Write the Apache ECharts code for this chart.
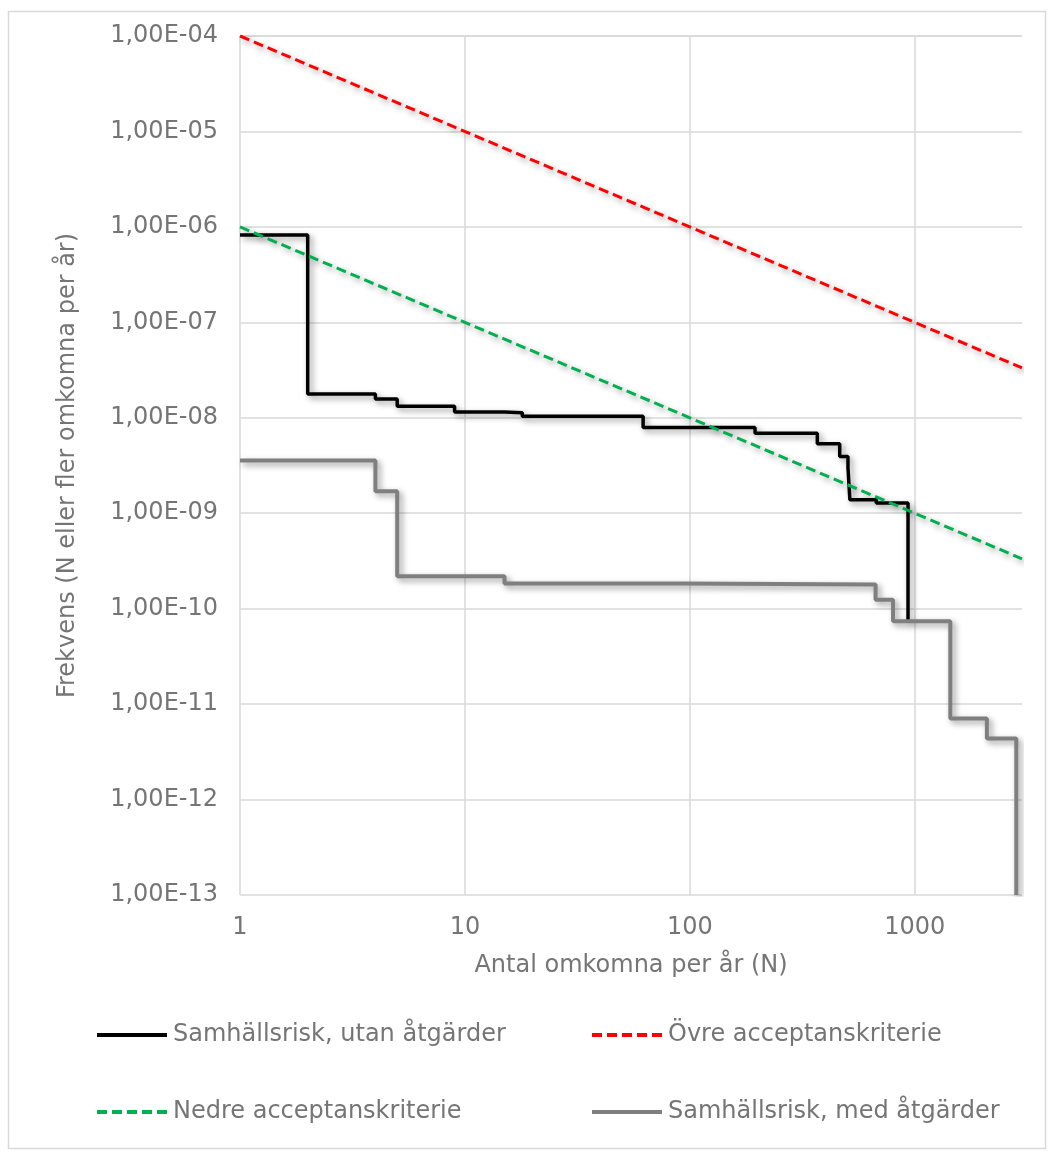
<!DOCTYPE html>
<html>
<head>
<meta charset="utf-8">
<script src="https://cdn.jsdelivr.net/npm/echarts@6/dist/echarts.min.js"></script>
<style>
  html, body { margin: 0; padding: 0; background: #ffffff; }
  #chart { width: 1054px; height: 1157px; }
</style>
</head>
<body>
<div id="chart"></div>
<script>
// F/N-kurva: antal omkomna (N) mot frekvens för N eller fler omkomna per år

// Samhällsrisk utan åtgärder (trappsteg: frekvens gäller från N till nästa N)
const utanN = [1, 2, 4, 5, 9, 15, 18, 62, 195, 369, 464, 505, 515, 675, 934];
const utanF = [8.2e-7, 1.78e-8, 1.57e-8, 1.32e-8, 1.15e-8, 1.13e-8, 1.04e-8, 7.9e-9,
               6.9e-9, 5.35e-9, 3.94e-9, 3.0e-9, 1.38e-9, 1.28e-9, 7.5e-11];

// Samhällsrisk med åtgärder
const medN = [1, 4, 5, 15, 92, 670, 801, 1440, 2094, 2830];
const medF = [3.57e-9, 1.7e-9, 2.19e-10, 1.83e-10, 1.79e-10, 1.24e-10, 7.36e-11,
              7.05e-12, 4.36e-12, 1e-13];

// Acceptanskriterier (räta linjer i log-log)
const kritN = [1, 3000];
const ovreF = [1e-4, 3.33e-8];
const nedreF = [1e-6, 3.33e-10];

// Axlar
const xMin = 1, xMax = 3000;
const yMin = 1e-13, yMax = 1e-4;
const xGridValues = [1, 10, 100, 1000];

const FONT = 'DejaVu Sans';
const TEXT = '#757575';
const GRID = '#d9d9d9';
const FS = 24;

const pairs = (xs, ys) => xs.map((x, i) => [x, ys[i]]);

const shadow = {
  shadowColor: 'rgba(0,0,0,0.4)',
  shadowBlur: 6,
  shadowOffsetX: 3,
  shadowOffsetY: 3
};

function fmtExp(v) {
  const e = Math.round(Math.log10(v));
  const a = Math.abs(e);
  return '1,00E' + (e < 0 ? '-' : '+') + (a < 10 ? '0' + a : String(a));
}

const legendBase = {
  orient: 'horizontal',
  padding: 0,
  itemWidth: 70,
  itemHeight: 14,
  itemGap: 0,
  selectedMode: false,
  itemStyle: { opacity: 0 },
  lineStyle: { width: 4 },
  textStyle: { fontFamily: FONT, fontSize: FS, color: TEXT, padding: [0, 0, 0, 1] }
};

const chart = echarts.init(document.getElementById('chart'), null, { renderer: 'canvas' });

chart.setOption({
  backgroundColor: '#ffffff',
  animation: false,
  graphic: [{
    type: 'rect',
    silent: true,
    shape: { x: 8.5, y: 11.5, width: 1037, height: 1137 },
    style: { fill: 'none', stroke: '#d9d9d9', lineWidth: 1.5 }
  }],
  grid: { left: 240, top: 36, right: 32, bottom: 262, containLabel: false },
  legend: [
    Object.assign({}, legendBase, { data: ['Samhällsrisk, utan åtgärder'], left: 95, top: 1023 }),
    Object.assign({}, legendBase, { data: ['Övre acceptanskriterie'], left: 590, top: 1023 }),
    Object.assign({}, legendBase, { data: ['Nedre acceptanskriterie'], left: 95, top: 1100 }),
    Object.assign({}, legendBase, { data: ['Samhällsrisk, med åtgärder'], left: 590, top: 1100 })
  ],
  xAxis: {
    type: 'log',
    logBase: 10,
    min: xMin,
    max: xMax,
    name: 'Antal omkomna per år (N)',
    nameLocation: 'middle',
    nameGap: 59,
    nameTextStyle: { fontFamily: FONT, fontSize: FS, color: TEXT },
    axisLine: { show: false },
    axisTick: { show: false },
    splitLine: { show: false },
    axisLabel: {
      fontFamily: FONT, fontSize: FS, color: TEXT, margin: 21,
      showMaxLabel: false,
      formatter: v => String(Math.round(v))
    }
  },
  yAxis: {
    type: 'log',
    logBase: 10,
    min: yMin,
    max: yMax,
    name: 'Frekvens (N eller fler omkomna per år)',
    nameLocation: 'middle',
    nameGap: 160,
    nameRotate: 90,
    nameTextStyle: { fontFamily: FONT, fontSize: FS, color: TEXT },
    axisLine: { show: false },
    axisTick: { show: false },
    splitLine: { show: true, lineStyle: { color: GRID, width: 1.5 } },
    axisLabel: {
      fontFamily: FONT, fontSize: FS, color: TEXT, margin: 22,
      formatter: fmtExp
    }
  },
  series: [
    {
      name: 'Samhällsrisk, utan åtgärder',
      type: 'line',
      step: 'end',
      symbol: 'none',
      data: pairs(utanN, utanF),
      lineStyle: Object.assign({ color: '#000000', width: 3.5 }, shadow),
      itemStyle: { color: '#000000' },
      z: 3,
      // vertikala stödlinjer vid N = 1, 10, 100, 1000
      markLine: {
        silent: true,
        symbol: 'none',
        label: { show: false },
        z: 1,
        lineStyle: { color: GRID, width: 1.5, type: 'solid', shadowBlur: 0, shadowOffsetX: 0, shadowOffsetY: 0 },
        data: xGridValues.map(v => ({ xAxis: v }))
      }
    },
    {
      name: 'Samhällsrisk, med åtgärder',
      type: 'line',
      step: 'end',
      symbol: 'none',
      data: pairs(medN, medF),
      lineStyle: Object.assign({ color: '#7f7f7f', width: 4 }, shadow),
      itemStyle: { color: '#7f7f7f' },
      z: 4
    },
    {
      name: 'Övre acceptanskriterie',
      type: 'line',
      symbol: 'none',
      data: pairs(kritN, ovreF),
      lineStyle: Object.assign({ color: '#ff0000', width: 3, type: [10, 5] }, shadow),
      itemStyle: { color: '#ff0000' },
      z: 5
    },
    {
      name: 'Nedre acceptanskriterie',
      type: 'line',
      symbol: 'none',
      data: pairs(kritN, nedreF),
      lineStyle: Object.assign({ color: '#00b050', width: 3, type: [10, 5] }, shadow),
      itemStyle: { color: '#00b050' },
      z: 6
    }
  ]
});
</script>
</body>
</html>
